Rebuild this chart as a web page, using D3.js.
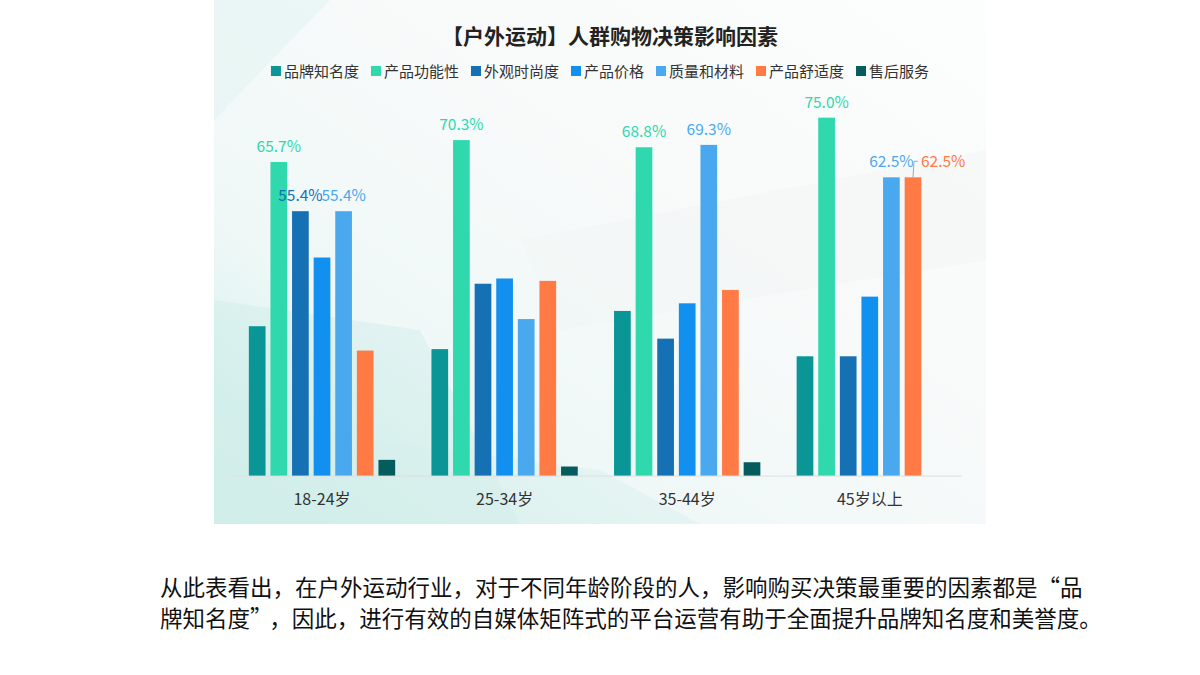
<!DOCTYPE html>
<html>
<head>
<meta charset="utf-8">
<script src="https://cdn.jsdelivr.net/npm/d3@7"></script>
<style>
html,body{margin:0;padding:0;background:#fff;}
svg{display:block;font-family:"Noto Sans CJK SC","Noto Sans",sans-serif;}
</style>
</head>
<body>
<svg id="c" width="1200" height="675"></svg>
<script>
const title = "【户外运动】人群购物决策影响因素";
const categories = ["18-24岁", "25-34岁", "35-44岁", "45岁以上"];
const seriesNames = ["品牌知名度", "产品功能性", "外观时尚度", "产品价格", "质量和材料", "产品舒适度", "售后服务"];
const seriesColors = ["#0a9596", "#2fd8ad", "#1670b4", "#1190ef", "#4aa9ee", "#ff7a45", "#055c5c"];
const v_brand   = [31.3, 26.5, 34.5, 25.0];
const v_func    = [65.7, 70.3, 68.8, 75.0];
const v_style   = [55.4, 40.2, 28.7, 25.0];
const v_price   = [45.7, 41.3, 36.1, 37.5];
const v_quality = [55.4, 32.8, 69.3, 62.5];
const v_comfort = [26.2, 40.8, 38.9, 62.5];
const v_service = [3.3, 1.9, 2.8, 0];
// labelled points: [series index, category index]
const labelled = [[1,0],[2,0],[4,0],[1,1],[1,2],[4,2],[1,3],[4,3],[5,3]];
const movedLabels = [[5,3]];
const note = [
  "从此表看出，在户外运动行业，对于不同年龄阶段的人，影响购买决策最重要的因素都是“品",
  "牌知名度”，因此，进行有效的自媒体矩阵式的平台运营有助于全面提升品牌知名度和美誉度。"
];

const values = [v_brand, v_func, v_style, v_price, v_quality, v_comfort, v_service];
const svg = d3.select("#c");

// background panel of the chart picture
const defs = svg.append("defs");
const g1 = defs.append("linearGradient").attr("id","bg").attr("x1","0").attr("y1","1").attr("x2","1").attr("y2","0");
g1.append("stop").attr("offset","0").attr("stop-color","#cdeeea");
g1.append("stop").attr("offset","0.3").attr("stop-color","#eff8f7");
g1.append("stop").attr("offset","0.6").attr("stop-color","#f8fafa");
g1.append("stop").attr("offset","1").attr("stop-color","#fcfdfd");
svg.append("rect").attr("x",214).attr("y",0).attr("width",772).attr("height",524).attr("fill","url(#bg)");
const bgClip = defs.append("clipPath").attr("id","bgc");
bgClip.append("rect").attr("x",214).attr("y",0).attr("width",772).attr("height",524);
const deco = svg.append("g").attr("clip-path","url(#bgc)");
deco.append("path").attr("d","M214,300 L420,330 L520,524 L214,524 Z").attr("fill","#bfe9e3").attr("opacity",0.3);
deco.append("path").attr("d","M214,420 L600,470 L700,524 L214,524 Z").attr("fill","#d6efec").attr("opacity",0.45);
deco.append("path").attr("d","M214,0 L330,0 L214,120 Z").attr("fill","#e3f3f1").attr("opacity",0.6);
deco.append("path").attr("d","M520,240 L986,150 L986,260 L560,330 Z").attr("fill","#eef1f2").attr("opacity",0.3);

const x0 = d3.scaleBand().domain(categories).range([230.7, 961.1]).paddingInner(0).paddingOuter(0);
const x1 = d3.scaleBand().domain(d3.range(seriesNames.length)).range([0, x0.bandwidth()]).paddingInner(0.227).paddingOuter(0.84);
const y = d3.scaleLinear().domain([0, 80]).range([475.6, 93.8]);

// axis
const xAxis = d3.axisBottom(x0).tickSize(0).tickPadding(18);
const ax = svg.append("g").attr("transform", `translate(0,${y(0)})`).call(xAxis);
ax.select(".domain").attr("stroke","#dcdfe0").attr("stroke-width",1);
ax.selectAll("text").attr("font-size",16).attr("fill","#333").attr("font-family","\"Noto Sans CJK SC\",sans-serif");

// bars
const flat = [];
values.forEach((arr, s) => arr.forEach((v, c) => flat.push({s, c, v})));
svg.append("g").selectAll("rect").data(flat.filter(d => d.v > 0)).join("rect")
  .attr("x", d => x0(categories[d.c]) + x1(d.s))
  .attr("y", d => y(d.v))
  .attr("width", x1.bandwidth())
  .attr("height", d => y(0) - y(d.v))
  .attr("fill", d => seriesColors[d.s]);

// labels
const isMoved = (s,c) => movedLabels.some(m => m[0]===s && m[1]===c);
const lg = svg.append("g");
labelled.forEach(([s,c]) => {
  const v = values[s][c];
  const cx = x0(categories[c]) + x1(s) + x1.bandwidth()/2;
  const top = y(v);
  if (isMoved(s,c)) {
    lg.append("path")
      .attr("d", `M${cx},${top} L${cx+1},${top-16} L${cx+5},${top-16}`)
      .attr("fill","none").attr("stroke","#a6a6a6").attr("stroke-width",1);
    lg.append("text").attr("x", cx+8).attr("y", top-10.5)
      .attr("text-anchor","start").attr("font-size",15.5).attr("fill",seriesColors[s])
      .text(v.toFixed(1) + "%");
  } else {
    lg.append("text").attr("x", cx).attr("y", top-10)
      .attr("text-anchor","middle").attr("font-size",15.5).attr("fill",seriesColors[s])
      .text(v.toFixed(1) + "%");
  }
});

// title
svg.append("text").attr("x",610).attr("y",44).attr("text-anchor","middle")
  .attr("font-size",21).attr("font-weight","bold").attr("fill","#222").text(title);

// legend
const legend = svg.append("g");
const sq = 10, gapT = 3, gapI = 12, fs = 15;
const items = seriesNames.map((n,i) => {
  const t = legend.append("text").attr("font-size",fs).attr("fill","#333").text(n);
  return {t, w: t.node().getComputedTextLength(), i};
});
const total = d3.sum(items, d => sq + gapT + d.w) + gapI*(items.length-1);
let lx = 600 - total/2;
items.forEach(d => {
  legend.append("rect").attr("x",lx).attr("y",66).attr("width",sq).attr("height",sq).attr("fill",seriesColors[d.i]);
  d.t.attr("x", lx + sq + gapT).attr("y", 76.5);
  lx += sq + gapT + d.w + gapI;
});

// note text (closing quote given full-width spacing)
note.forEach((line, i) => {
  const t = svg.append("text").attr("x",160).attr("y",596 + i*31).attr("font-size",22.5).attr("fill","#111");
  const parts = line.split("”");
  parts.forEach((p, k) => {
    const ts = t.append("tspan").text(k < parts.length - 1 ? p + "”" : p);
    if (k > 0) ts.attr("dx", 8);
  });
});
</script>
</body>
</html>
